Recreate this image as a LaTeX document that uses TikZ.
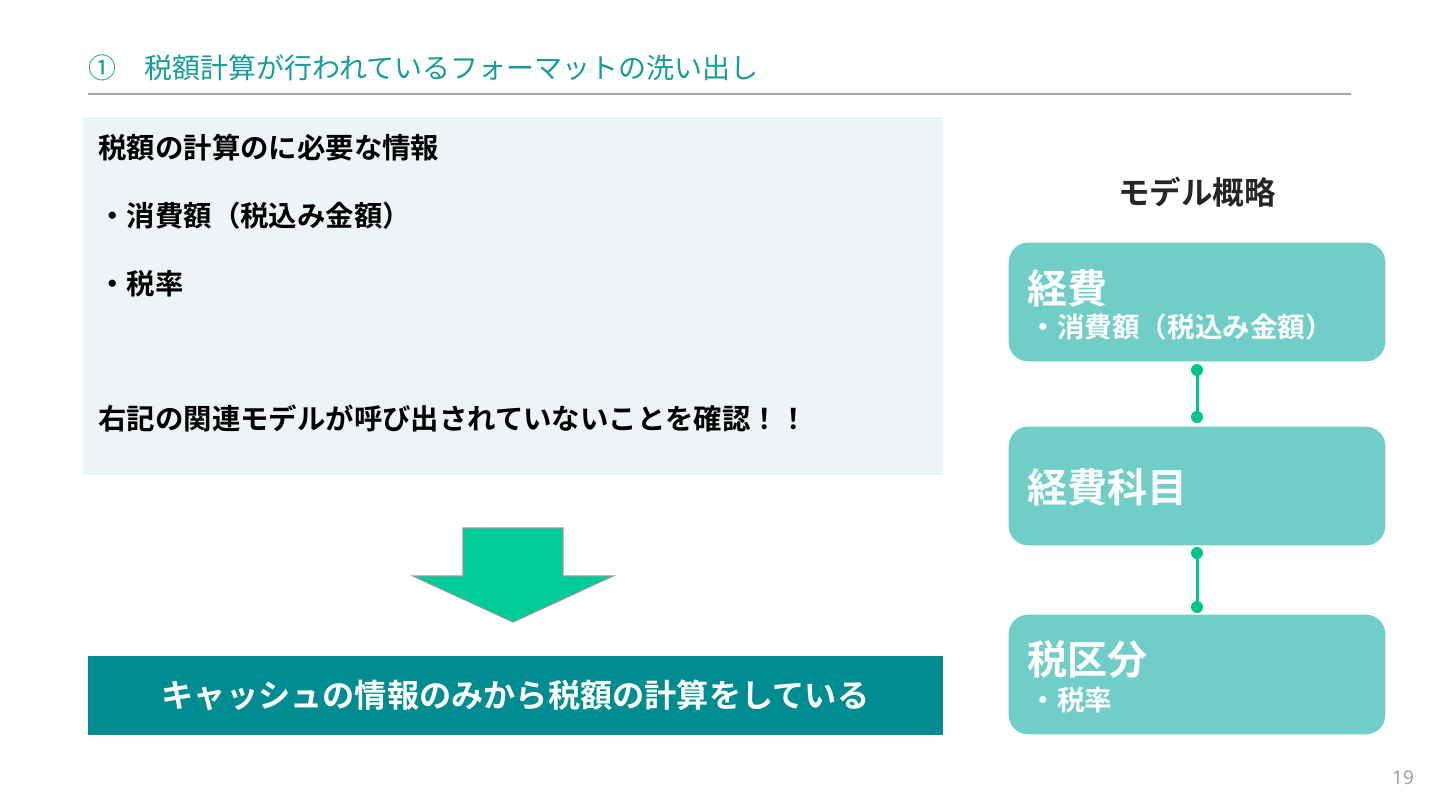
\documentclass[tikz,border=0pt]{standalone}
\usepackage{fontspec}
\newfontfamily\jp{Noto Sans CJK JP}
\newfontfamily\jpb{Noto Sans CJK JP Bold}
\setmainfont{Open Sans}
\definecolor{titlec}{HTML}{179C9C}
\definecolor{lightbox}{HTML}{ECF5F6}
\definecolor{darkbox}{HTML}{008C90}
\definecolor{modelbox}{HTML}{70CDC8}
\definecolor{linkc}{HTML}{00C48C}
\definecolor{arrowc}{HTML}{00CC99}
\definecolor{arrowedge}{HTML}{8E9B9B}
\definecolor{rulec}{HTML}{A6A6A6}
\definecolor{pagec}{HTML}{9A9A9A}
\tikzset{
  txt/.style={inner sep=0pt, anchor=west},
  bodytxt/.style={txt, font=\jpb\fontsize{14.2pt}{16pt}\selectfont, text=black},
  modelrect/.style={fill=modelbox, draw=white, line width=0.6pt, rounded corners=10pt},
  headtxt/.style={txt, font=\jpb\fontsize{20pt}{22pt}\selectfont, text=white},
  subtxt/.style={txt, font=\jpb\fontsize{13.8pt}{15pt}\selectfont, text=white},
  link/.style={draw=linkc, line width=1.5pt},
  dot/.style={circle, fill=linkc, inner sep=0pt, minimum size=6pt}
}
\begin{document}
\begin{tikzpicture}[x=0.5pt,y=-0.5pt]
\useasboundingbox (0,0) rectangle (1440,810);
\fill[white] (0,0) rectangle (1440,810);
% title
\node[txt, font=\jp\fontsize{14pt}{16pt}\selectfont, text=titlec] (title) at (88,68) {①　税額計算が行われているフォーマットの洗い出し};
\draw[rulec, line width=1pt] (88,94) -- (1351,94);
% left info box
\node[fill=lightbox, minimum width=430pt, minimum height=179pt, inner sep=0pt] (info) at (513,296) {};
\node[bodytxt] (t1) at (98,148) {税額の計算のに必要な情報};
\node[bodytxt] (t2) at (98,216) {・消費額（税込み金額）};
\node[bodytxt] (t3) at (98,284) {・税率};
\node[bodytxt] (t4) at (98,418) {右記の関連モデルが呼び出されていないことを確認！！};
% arrow
\draw[fill=arrowc, draw=arrowedge, line width=0.6pt]
  (463,528) -- (563,528) -- (563,576) -- (613,576) -- (513,622) -- (413,576) -- (463,576) -- cycle;
% result box
\node[fill=darkbox, minimum width=427.5pt, minimum height=39.5pt, inner sep=0pt, text=white,
  font=\jpb\fontsize{16.1pt}{18pt}\selectfont] (result) at (515.5,695.5) {キャッシュの情報のみから税額の計算をしている};
% model
\node[font=\jpb\fontsize{15.8pt}{18pt}\selectfont, text=black!85] (mtitle) at (1197,192) {モデル概略};
\node[modelrect, minimum width=189pt, minimum height=60pt, inner sep=0pt] (m1) at (1197,302) {};
\node[modelrect, minimum width=189pt, minimum height=60pt, inner sep=0pt] (m2) at (1197,486) {};
\node[modelrect, minimum width=189pt, minimum height=60.5pt, inner sep=0pt] (m3) at (1197,674.5) {};
\node[headtxt] (h1) at (1027,288) {経費};
\node[subtxt] (s1) at (1029,327) {・消費額（税込み金額）};
\node[headtxt] (h2) at (1027,487) {経費科目};
\node[headtxt] (h3) at (1027,659) {税区分};
\node[subtxt] (s3) at (1029,700) {・税率};
% connectors
\coordinate (c1a) at (1197,370);
\coordinate (c1b) at (1197,417);
\coordinate (c2a) at (1197,553);
\coordinate (c2b) at (1197,607);
\draw[link] (c1a) -- (c1b);
\draw[link] (c2a) -- (c2b);
\node[dot] at (c1a) {};
\node[dot] at (c1b) {};
\node[dot] at (c2a) {};
\node[dot] at (c2b) {};
% page number
\node[font=\fontsize{9.5pt}{11pt}\selectfont, text=pagec] (page) at (1403,778) {19};
\end{tikzpicture}
\end{document}
